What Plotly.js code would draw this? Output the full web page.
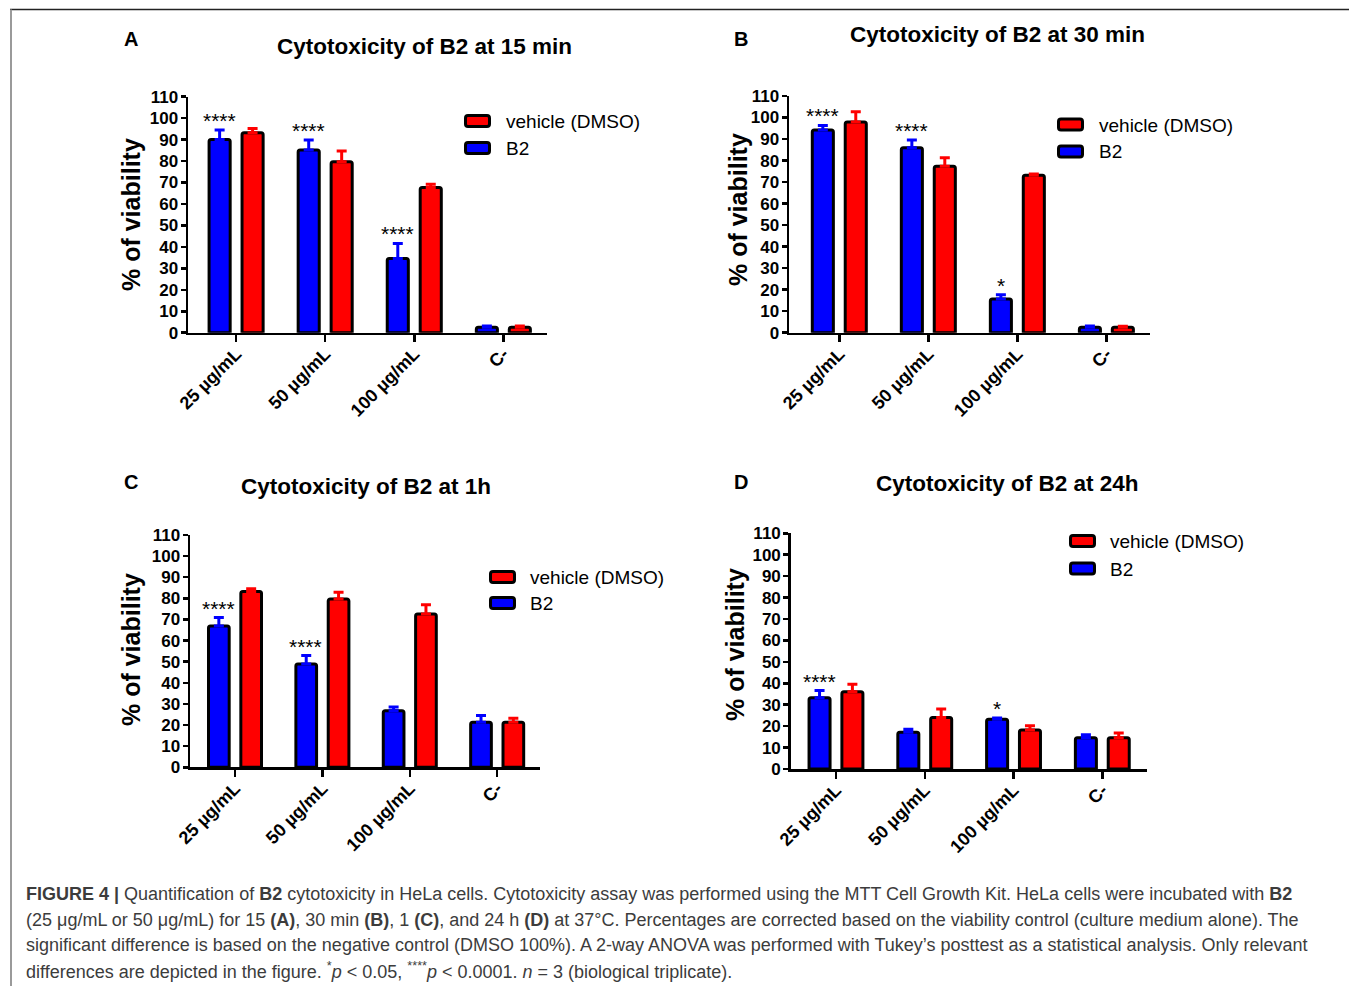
<!DOCTYPE html>
<html>
<head>
<meta charset="utf-8">
<script src="https://cdn.plot.ly/plotly-3.0.1.min.js"></script>
<style>
html,body{margin:0;padding:0;background:#fff;}
#chart{width:1349px;height:986px;}
</style>
</head>
<body>
<div id="chart"></div>
<script>
// ---------- DATA ----------
const categories = ['25 µg/mL', '50 µg/mL', '100 µg/mL', 'C-'];
const seriesNames = ['B2', 'vehicle (DMSO)'];
const panelLetters = ['A', 'B', 'C', 'D'];
const panelTitles = ['Cytotoxicity of B2 at 15 min', 'Cytotoxicity of B2 at 30 min',
                     'Cytotoxicity of B2 at 1h', 'Cytotoxicity of B2 at 24h'];
const yTitle = '% of viability';
const yTicks = [0,10,20,30,40,50,60,70,80,90,100,110];

// 15 min (A)
const b2_15 = [90, 85.1, 34.6, 2.5];
const b2_15_err = [4.5, 4.7, 7.0, 0.6];
const veh_15 = [93.2, 79.7, 67.7, 2.5];
const veh_15_err = [2.0, 5.0, 1.5, 0.6];
const sig_15 = ['****', '****', '****', ''];
// 30 min (B)
const b2_30 = [94.2, 85.9, 15.7, 2.5];
const b2_30_err = [2.1, 3.6, 1.9, 0.6];
const veh_30 = [97.9, 77.4, 73.2, 2.5];
const veh_30_err = [4.8, 3.9, 0.6, 0.5];
const sig_30 = ['****', '****', '*', ''];
// 1 h (C)
const b2_1h = [66.9, 48.9, 26.8, 21.3];
const b2_1h_err = [4.0, 4.0, 1.8, 3.2];
const veh_1h = [83.3, 79.7, 72.6, 21.3];
const veh_1h_err = [1.3, 3.2, 4.4, 1.9];
const sig_1h = ['****', '****', '', ''];
// 24 h (D)
const b2_24 = [33.3, 17.1, 23.2, 14.6];
const b2_24_err = [3.3, 1.4, 0.6, 1.4];
const veh_24 = [36.1, 24.0, 18.2, 14.6];
const veh_24_err = [3.4, 4.0, 2.0, 2.2];
const sig_24 = ['****', '', '*', ''];

const captionLines = [
  '<b>FIGURE 4 |</b> Quantification of <b>B2</b> cytotoxicity in HeLa cells. Cytotoxicity assay was performed using the MTT Cell Growth Kit. HeLa cells were incubated with <b>B2</b>',
  '(25 μg/mL or 50 μg/mL) for 15 <b>(A)</b>, 30 min <b>(B)</b>, 1 <b>(C)</b>, and 24 h <b>(D)</b> at 37°C. Percentages are corrected based on the viability control (culture medium alone). The',
  'significant difference is based on the negative control (DMSO 100%). A 2-way ANOVA was performed with Tukey’s posttest as a statistical analysis. Only relevant',
  'differences are depicted in the figure. <sup>*</sup><i>p</i> < 0.05, <sup>****</sup><i>p</i> < 0.0001. <i>n</i> = 3 (biological triplicate).'
];

const panelsData = [
  {b2: b2_15, b2e: b2_15_err, veh: veh_15, vehe: veh_15_err, sig: sig_15},
  {b2: b2_30, b2e: b2_30_err, veh: veh_30, vehe: veh_30_err, sig: sig_30},
  {b2: b2_1h, b2e: b2_1h_err, veh: veh_1h, vehe: veh_1h_err, sig: sig_1h},
  {b2: b2_24, b2e: b2_24_err, veh: veh_24, vehe: veh_24_err, sig: sig_24}
];

// ---------- LAYOUT GEOMETRY (pixels) ----------
const W = 1349, H = 986;
const px = x => x / W;
const py = y => 1 - y / H;

const geom = [
  {x0: 188, x1: 547, yTop: 96.7, yBot: 332.7, xr: [-0.54, 3.49],
   title: [424, 47], letter: [131, 39], ytitle: [131, 215],
   leg: {bx: 464, by: [114, 141], tx: 504}},
  {x0: 789, x1: 1150, yTop: 96, yBot: 332.7, xr: [-0.565, 3.49],
   title: [997, 35], letter: [741, 39], ytitle: [738, 210],
   leg: {bx: 1057, by: [117.5, 144.5], tx: 1097}},
  {x0: 190, x1: 540, yTop: 535, yBot: 767.3, xr: [-0.515, 3.49],
   title: [366, 486], letter: [131, 482], ytitle: [131, 650],
   leg: {bx: 489, by: [570, 596], tx: 528}},
  {x0: 790.7, x1: 1146.7, yTop: 533.3, yBot: 769, xr: [-0.51, 3.5],
   title: [1008, 483], letter: [741, 482], ytitle: [735, 645],
   leg: {bx: 1069, by: [534, 561.5], tx: 1108}}
];

const BLUE = '#0000ff', RED = '#ff0000';
const FONT = 'Liberation Sans, Arial, sans-serif';

const traces = [];
const layout = {
  width: W, height: H,
  margin: {l: 0, r: 0, t: 0, b: 0},
  paper_bgcolor: '#ffffff', plot_bgcolor: 'rgba(0,0,0,0)',
  showlegend: false,
  barmode: 'group', bargap: 0.26, bargroupgap: 0.36,
  annotations: [], shapes: [],
  font: {family: FONT, color: '#000'}
};

function roundRectPath(x0, y0, x1, y1, r) {
  const P = (x, y) => px(x).toFixed(5) + ',' + py(y).toFixed(5);
  return 'M' + P(x0 + r, y0) + ' L' + P(x1 - r, y0) + ' Q' + P(x1, y0) + ' ' + P(x1, y0 + r) +
         ' L' + P(x1, y1 - r) + ' Q' + P(x1, y1) + ' ' + P(x1 - r, y1) +
         ' L' + P(x0 + r, y1) + ' Q' + P(x0, y1) + ' ' + P(x0, y1 - r) +
         ' L' + P(x0, y0 + r) + ' Q' + P(x0, y0) + ' ' + P(x0 + r, y0) + ' Z';
}

panelsData.forEach((d, i) => {
  const g = geom[i];
  const sfx = i === 0 ? '' : String(i + 1);
  const xa = 'x' + sfx, ya = 'y' + sfx;
  const common = {
    type: 'bar', x: categories, xaxis: xa, yaxis: ya,
    hoverinfo: 'y'
  };
  traces.push(Object.assign({}, common, {
    name: seriesNames[0], y: d.b2,
    marker: {color: BLUE, line: {color: '#000', width: 3}, cornerradius: 2},
    error_y: {type: 'data', symmetric: false, array: d.b2e, arrayminus: d.b2e.map(() => 0),
              color: BLUE, thickness: 3, width: 5}
  }));
  traces.push(Object.assign({}, common, {
    name: seriesNames[1], y: d.veh,
    marker: {color: RED, line: {color: '#000', width: 3}, cornerradius: 2},
    error_y: {type: 'data', symmetric: false, array: d.vehe, arrayminus: d.vehe.map(() => 0),
              color: RED, thickness: 3, width: 5}
  }));

  layout['xaxis' + sfx] = {
    domain: [px(g.x0), px(g.x1)], anchor: ya,
    type: 'category', range: g.xr,
    showline: true, linecolor: '#000', linewidth: 2.5,
    ticks: 'outside', ticklen: 7, tickwidth: 2.5, tickcolor: '#000',
    ticklabelstandoff: -6,
    tickangle: -45, showgrid: false, zeroline: false, fixedrange: true,
    tickfont: {family: FONT, size: 18, color: '#000', weight: 'bold'}
  };
  layout['yaxis' + sfx] = {
    domain: [py(g.yBot), py(g.yTop)], anchor: xa,
    range: [0, 110], tickmode: 'array', tickvals: yTicks, ticktext: yTicks.map(String),
    showline: true, linecolor: '#000', linewidth: 2.5,
    ticks: 'outside', ticklen: 5, tickwidth: 2.5, tickcolor: '#000',
    ticklabelstandoff: -1,
    showgrid: false, zeroline: false, fixedrange: true,
    tickfont: {family: FONT, size: 17, color: '#000', weight: 'bold'}
  };

  d.sig.forEach((s, k) => {
    if (!s) return;
    layout.annotations.push({
      xref: xa, yref: ya, x: categories[k], y: d.b2[k] + d.b2e[k],
      text: s, showarrow: false, xanchor: 'center', yanchor: 'bottom',
      xshift: -16.5, yshift: -4,
      font: {family: FONT, size: 21, color: '#000'}
    });
  });

  layout.annotations.push({
    xref: 'paper', yref: 'paper', x: px(g.title[0]), y: py(g.title[1]),
    text: '<b>' + panelTitles[i] + '</b>', showarrow: false,
    xanchor: 'center', yanchor: 'middle',
    font: {family: FONT, size: 22.5, color: '#000'}
  });
  layout.annotations.push({
    xref: 'paper', yref: 'paper', x: px(g.letter[0]), y: py(g.letter[1]),
    text: '<b>' + panelLetters[i] + '</b>', showarrow: false,
    xanchor: 'center', yanchor: 'middle',
    font: {family: FONT, size: 20, color: '#000'}
  });
  layout.annotations.push({
    xref: 'paper', yref: 'paper', x: px(g.ytitle[0]), y: py(g.ytitle[1]),
    text: '<b>' + yTitle + '</b>', showarrow: false, textangle: -90,
    xanchor: 'center', yanchor: 'middle',
    font: {family: FONT, size: 25, color: '#000'}
  });

  const legColors = [RED, BLUE];
  const legNames = [seriesNames[1], seriesNames[0]];
  legColors.forEach((c, k) => {
    const bx = g.leg.bx, by = g.leg.by[k];
    layout.shapes.push({
      type: 'path', xref: 'paper', yref: 'paper',
      path: roundRectPath(bx + 1.5, by + 1.5, bx + 25.5, by + 12.5, 2.5),
      fillcolor: c, line: {color: '#000', width: 3}
    });
    layout.annotations.push({
      xref: 'paper', yref: 'paper', x: px(g.leg.tx), y: py(by + 7.5),
      text: legNames[k], showarrow: false, xanchor: 'left', yanchor: 'middle',
      font: {family: FONT, size: 19, color: '#000'}
    });
  });
});

const capY = [894, 919.5, 945, 970.5];
captionLines.forEach((t, k) => {
  layout.annotations.push({
    xref: 'paper', yref: 'paper', x: px(24), y: py(capY[k]),
    text: t, showarrow: false, xanchor: 'left', yanchor: 'middle', align: 'left',
    font: {family: FONT, size: 18, color: '#3c3c3c'}
  });
});

layout.shapes.push({type: 'line', xref: 'paper', yref: 'paper',
  x0: px(10), x1: 1, y0: py(9.5), y1: py(9.5), line: {color: '#222', width: 1.5}});
layout.shapes.push({type: 'line', xref: 'paper', yref: 'paper',
  x0: px(11), x1: px(11), y0: py(9.5), y1: 0, line: {color: '#9a9a9a', width: 2}});

Plotly.newPlot('chart', traces, layout, {displayModeBar: false, staticPlot: true});
</script>
</body>
</html>
